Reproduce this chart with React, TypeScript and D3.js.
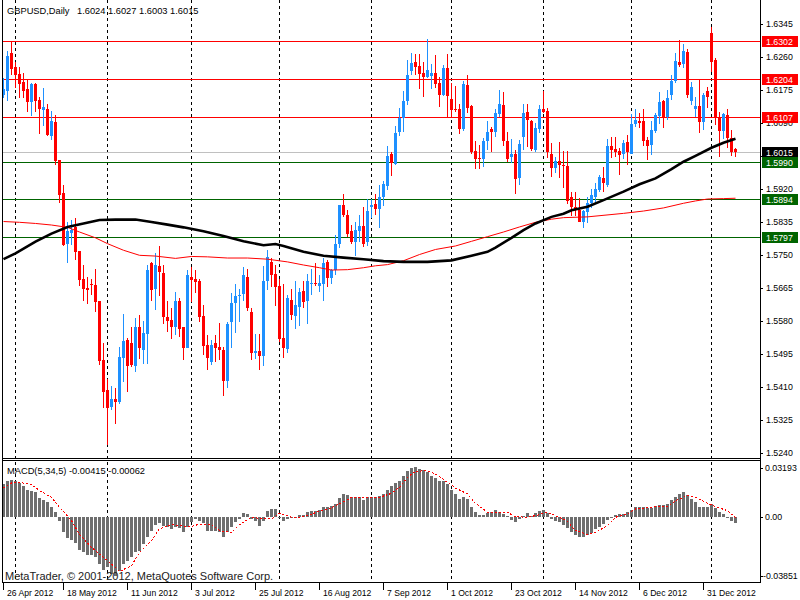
import React from "react";
import * as d3 from "d3";

const barCount = 184;

const openP = [
  1.6163, 1.6173, 1.6271, 1.6235, 1.6216, 1.6197, 1.6178, 1.6146, 1.619, 1.615,
  1.6125, 1.6127, 1.6058, 1.6094, 1.5995, 1.591, 1.578, 1.5807, 1.5822, 1.5761,
  1.5688, 1.5666, 1.5676, 1.5673, 1.5632, 1.548, 1.5402, 1.5359, 1.5381, 1.5371,
  1.5486, 1.5531, 1.5523, 1.5465, 1.5566, 1.5506, 1.5548, 1.5729, 1.5663, 1.5723,
  1.5704, 1.5592, 1.5583, 1.5566, 1.5633, 1.5565, 1.5511, 1.5694, 1.569, 1.5684,
  1.5594, 1.552, 1.5474, 1.5523, 1.5513, 1.5506, 1.5427, 1.5577, 1.5627, 1.5646,
  1.5651, 1.5694, 1.5604, 1.5499, 1.5503, 1.5491, 1.5685, 1.5733, 1.5702, 1.5671,
  1.5536, 1.5508, 1.5634, 1.5594, 1.5616, 1.5658, 1.5632, 1.5676, 1.5678, 1.5671,
  1.5676, 1.5733, 1.5692, 1.5712, 1.5778, 1.5879, 1.5855, 1.5812, 1.5785, 1.5812,
  1.5825, 1.5783, 1.5875, 1.5881, 1.5869, 1.59, 1.5929, 1.601, 1.5984, 1.6067,
  1.6104, 1.6147, 1.6225, 1.6247, 1.6237, 1.622, 1.621, 1.6213, 1.622, 1.6194,
  1.6163, 1.6233, 1.6153, 1.6128, 1.6128, 1.6075, 1.6189, 1.6135, 1.6018, 1.6,
  1.5998, 1.6044, 1.6075, 1.6067, 1.6115, 1.6137, 1.6044, 1.6004, 1.6012, 1.595,
  1.6055, 1.6118, 1.6096, 1.6021, 1.6075, 1.6127, 1.6122, 1.601, 1.5976, 1.5993,
  1.5982, 1.5981, 1.5901, 1.5874, 1.5866, 1.5835, 1.5862, 1.5884, 1.5901, 1.5918,
  1.595, 1.5931, 1.6032, 1.6024, 1.6018, 1.601, 1.6041, 1.6012, 1.6087, 1.6096,
  1.6096, 1.6047, 1.6034, 1.607, 1.611, 1.6147, 1.6107, 1.6163, 1.6199, 1.6247,
  1.6242, 1.6274, 1.6147, 1.6127, 1.6135, 1.6094, 1.6173, 1.6322, 1.6253, 1.6107,
  1.607, 1.6111, 1.6051, 1.6024,
];

const highP = [
  1.6206, 1.6276, 1.6299, 1.6247, 1.6235, 1.6219, 1.6201, 1.6194, 1.6194, 1.6158,
  1.6182, 1.614, 1.6122, 1.6111, 1.5996, 1.5931, 1.5835, 1.5841, 1.5847, 1.5762,
  1.5725, 1.5694, 1.569, 1.5714, 1.5633, 1.5523, 1.5432, 1.5414, 1.5407, 1.5514,
  1.5599, 1.5537, 1.5566, 1.5589, 1.5596, 1.558, 1.5726, 1.5733, 1.5755, 1.5774,
  1.5725, 1.5632, 1.5613, 1.5656, 1.5639, 1.5566, 1.5712, 1.572, 1.5711, 1.569,
  1.5621, 1.5546, 1.5531, 1.5546, 1.5575, 1.5514, 1.5579, 1.5654, 1.5676, 1.5664,
  1.5719, 1.5714, 1.5613, 1.5548, 1.5548, 1.5723, 1.5763, 1.5742, 1.5726, 1.569,
  1.5675, 1.5647, 1.5664, 1.5683, 1.5666, 1.5683, 1.5703, 1.5714, 1.5729, 1.5699,
  1.5742, 1.5738, 1.5716, 1.5802, 1.5879, 1.5909, 1.5866, 1.5828, 1.5835, 1.5853,
  1.5875, 1.5895, 1.5895, 1.5907, 1.5931, 1.5941, 1.6032, 1.6017, 1.6084, 1.613,
  1.6173, 1.6252, 1.6271, 1.6268, 1.6268, 1.6249, 1.6307, 1.6244, 1.6266, 1.6209,
  1.624, 1.6268, 1.6195, 1.6187, 1.6139, 1.6199, 1.6214, 1.6137, 1.6044, 1.6034,
  1.6053, 1.6096, 1.6081, 1.6128, 1.6176, 1.617, 1.6068, 1.6049, 1.6021, 1.6047,
  1.6141, 1.6141, 1.6098, 1.609, 1.6137, 1.6173, 1.613, 1.6038, 1.6004, 1.6042,
  1.6018, 1.6018, 1.5914, 1.5912, 1.5898, 1.5866, 1.59, 1.5922, 1.5935, 1.5957,
  1.5978, 1.6049, 1.6055, 1.6055, 1.6027, 1.6047, 1.606, 1.6113, 1.6128, 1.6116,
  1.6127, 1.6055, 1.6096, 1.6116, 1.617, 1.615, 1.6176, 1.6214, 1.627, 1.6305,
  1.6293, 1.6281, 1.6197, 1.6159, 1.6201, 1.6167, 1.6184, 1.6339, 1.6257, 1.612,
  1.6116, 1.6127, 1.6073, 1.6027,
];

const lowP = [
  1.6154, 1.6147, 1.6214, 1.618, 1.6156, 1.6156, 1.612, 1.611, 1.612, 1.6063,
  1.6084, 1.6058, 1.6047, 1.5982, 1.5884, 1.5774, 1.5729, 1.5776, 1.5738, 1.5671,
  1.5632, 1.5625, 1.5647, 1.5603, 1.5467, 1.5357, 1.5262, 1.5351, 1.5316, 1.5368,
  1.5424, 1.5398, 1.5462, 1.545, 1.5484, 1.5469, 1.5471, 1.5632, 1.561, 1.5646,
  1.5572, 1.5553, 1.5534, 1.5544, 1.554, 1.5481, 1.551, 1.563, 1.5654, 1.5577,
  1.5493, 1.5455, 1.5467, 1.5474, 1.548, 1.5388, 1.5408, 1.5511, 1.5551, 1.5577,
  1.5632, 1.5606, 1.548, 1.5484, 1.5455, 1.5465, 1.566, 1.5669, 1.562, 1.5527,
  1.5486, 1.5499, 1.5583, 1.556, 1.5568, 1.5615, 1.5574, 1.5649, 1.5671, 1.5656,
  1.5632, 1.5669, 1.5675, 1.57, 1.5769, 1.5849, 1.5798, 1.578, 1.5749, 1.5785,
  1.5772, 1.5774, 1.5845, 1.5855, 1.5821, 1.5878, 1.5918, 1.5955, 1.5982, 1.6058,
  1.6068, 1.6137, 1.6214, 1.6214, 1.6178, 1.6159, 1.6206, 1.6178, 1.618, 1.6133,
  1.616, 1.6107, 1.6104, 1.6118, 1.6063, 1.607, 1.6116, 1.6012, 1.5972, 1.5972,
  1.5977, 1.6021, 1.6015, 1.6055, 1.6107, 1.6032, 1.5991, 1.5987, 1.5908, 1.5931,
  1.6021, 1.603, 1.6018, 1.6017, 1.6064, 1.6116, 1.6001, 1.5952, 1.5961, 1.595,
  1.5924, 1.5881, 1.5852, 1.5852, 1.5835, 1.5821, 1.5832, 1.5872, 1.5888, 1.5914,
  1.5914, 1.5926, 1.6001, 1.6004, 1.5957, 1.5998, 1.5982, 1.601, 1.6081, 1.6079,
  1.6032, 1.5995, 1.6008, 1.6064, 1.6087, 1.6079, 1.6098, 1.615, 1.6193, 1.6236,
  1.6233, 1.6156, 1.6137, 1.6107, 1.6064, 1.6073, 1.613, 1.6221, 1.6085, 1.6004,
  1.6049, 1.6027, 1.6007, 1.6003,
];

const closeP = [
  1.6178, 1.6263, 1.623, 1.6214, 1.6191, 1.6173, 1.6146, 1.619, 1.6147, 1.6127,
  1.6132, 1.6061, 1.6096, 1.5993, 1.5905, 1.5776, 1.5812, 1.5815, 1.5759, 1.5686,
  1.5664, 1.5661, 1.5675, 1.563, 1.5479, 1.5398, 1.5357, 1.5379, 1.5372, 1.5488,
  1.5529, 1.5465, 1.5467, 1.5565, 1.551, 1.5551, 1.5711, 1.5661, 1.5725, 1.5706,
  1.5591, 1.558, 1.5566, 1.5632, 1.5561, 1.5511, 1.57, 1.5687, 1.5682, 1.5591,
  1.5517, 1.5486, 1.552, 1.5511, 1.5505, 1.5426, 1.5572, 1.5628, 1.5646, 1.5649,
  1.57, 1.5613, 1.5499, 1.5503, 1.5491, 1.5683, 1.5745, 1.5699, 1.5669, 1.5534,
  1.5511, 1.5639, 1.5596, 1.5621, 1.5656, 1.563, 1.5683, 1.5678, 1.5675, 1.5678,
  1.5731, 1.5692, 1.5713, 1.5778, 1.5879, 1.5855, 1.5805, 1.5785, 1.5816, 1.5826,
  1.578, 1.5864, 1.5879, 1.5869, 1.59, 1.5933, 1.6005, 1.5987, 1.6064, 1.6104,
  1.6147, 1.6214, 1.6245, 1.6235, 1.6216, 1.621, 1.6227, 1.622, 1.6192, 1.6163,
  1.6232, 1.6161, 1.6124, 1.6123, 1.6075, 1.619, 1.613, 1.6015, 1.5998, 1.5999,
  1.6044, 1.6067, 1.6068, 1.6116, 1.6139, 1.6044, 1.5998, 1.601, 1.5946, 1.6036,
  1.6116, 1.6098, 1.6024, 1.6077, 1.6128, 1.612, 1.6015, 1.5976, 1.5993, 1.5982,
  1.5981, 1.5891, 1.5875, 1.5869, 1.5836, 1.5864, 1.5886, 1.5905, 1.5922, 1.5952,
  1.5935, 1.6032, 1.6021, 1.6015, 1.6008, 1.6038, 1.6017, 1.6087, 1.6098, 1.609,
  1.6044, 1.6032, 1.6073, 1.6111, 1.6144, 1.6107, 1.6154, 1.6199, 1.625, 1.624,
  1.6276, 1.6163, 1.6184, 1.6135, 1.6094, 1.6163, 1.6158, 1.6249, 1.6107, 1.607,
  1.6113, 1.6051, 1.6017, 1.6015,
];

// Slow moving average (black), sampled at bar indices
const blackMaIdx = [0, 3, 8, 12, 16, 20, 24, 28, 33, 37, 41, 45, 50, 55, 60, 65, 68, 70, 75, 80, 85, 90, 95, 100, 106, 112, 117, 121, 123, 127, 130, 133, 137, 140, 142, 146, 150, 155, 159, 163, 167, 170, 173, 177, 180, 183];
const blackMaVal = [1.574, 1.5755, 1.5785, 1.5806, 1.5823, 1.5832, 1.5841, 1.5842, 1.5842, 1.5836, 1.5829, 1.5822, 1.5812, 1.58, 1.5786, 1.5776, 1.5779, 1.5774, 1.5759, 1.5749, 1.5744, 1.574, 1.5735, 1.5733, 1.5733, 1.5737, 1.5749, 1.5759, 1.577, 1.5795, 1.5815, 1.5832, 1.5849, 1.5857, 1.5866, 1.5875, 1.5892, 1.5914, 1.5933, 1.5948, 1.5972, 1.5991, 1.6006, 1.6027, 1.604, 1.605];

// Very slow moving average (red)
const redMaIdx = [0, 4, 8, 12, 16, 19, 23, 26, 30, 34, 38, 43, 47, 51, 56, 61, 66, 71, 75, 79, 82, 86, 90, 93, 96, 100, 104, 108, 113, 117, 121, 125, 129, 133, 137, 140, 146, 155, 160, 165, 170, 173, 176, 180, 183];
const redMaVal = [1.5837, 1.5835, 1.5832, 1.5828, 1.5822, 1.581, 1.5795, 1.578, 1.5763, 1.575, 1.5748, 1.5742, 1.5747, 1.5746, 1.5743, 1.5743, 1.574, 1.5733, 1.5725, 1.5718, 1.5712, 1.5713, 1.5718, 1.5723, 1.5726, 1.5736, 1.5752, 1.5765, 1.5774, 1.5786, 1.5798, 1.581, 1.5823, 1.5835, 1.5843, 1.5847, 1.5849, 1.5858, 1.5864, 1.5872, 1.5884, 1.589, 1.5895, 1.5896, 1.5897];

// MACD(5,34,5) histogram
const macdHist = [
  0.0213, 0.0235, 0.0239, 0.0235, 0.022, 0.0202, 0.0174, 0.017, 0.0159, 0.0122,
  0.0109, 0.0093, 0.0065, 0.0028, -0.003, -0.0102, -0.0139, -0.0152, -0.0174, -0.0217,
  -0.0233, -0.0248, -0.0248, -0.0261, -0.0309, -0.0348, -0.0326, -0.0374, -0.0385, -0.0357,
  -0.0309, -0.0287, -0.0261, -0.0233, -0.0226, -0.0178, -0.013, -0.0091, -0.0052, -0.0043,
  -0.0059, -0.0065, -0.008, -0.007, -0.0074, -0.0102, -0.0065, -0.0037, -0.0015, -0.003,
  -0.0043, -0.0096, -0.0091, -0.0096, -0.0102, -0.0135, -0.0102, -0.007, -0.0033, -0.0015,
  0.0026, 0.0017, -0.0015, -0.003, -0.0059, -0.0026, 0.0035, 0.005, 0.005, -0.0004,
  -0.003, -0.0015, -0.0009, -0.0004, 0.0013, 0.0013, 0.0033, 0.0039, 0.0039, 0.0046,
  0.0061, 0.0065, 0.0072, 0.0083, 0.0122, 0.0148, 0.0143, 0.013, 0.0126, 0.0126,
  0.0109, 0.0126, 0.0126, 0.013, 0.0133, 0.0148, 0.0174, 0.0202, 0.0222, 0.0235,
  0.0267, 0.0296, 0.0317, 0.0322, 0.0311, 0.0304, 0.0289, 0.0267, 0.0252, 0.023,
  0.023, 0.0213, 0.0174, 0.0148, 0.0115, 0.0126, 0.0115, 0.0065, 0.0028, 0.0013,
  0.0013, 0.0022, 0.0028, 0.0043, 0.0028, 0.0017, 0.0004, -0.0022, -0.0037, -0.0015,
  0.0006, 0.0022, 0.0007, 0.0022, 0.0035, 0.0043, 0.0022, -0.0015, -0.0026, -0.0037,
  -0.0052, -0.0074, -0.0102, -0.0117, -0.0135, -0.013, -0.0117, -0.0109, -0.008, -0.0065,
  -0.0048, -0.0022, -0.0004, 0.0013, 0.0017, 0.0017, 0.0028, 0.0043, 0.0065, 0.0061,
  0.0061, 0.0057, 0.0057, 0.0072, 0.0078, 0.0078, 0.0083, 0.0109, 0.0126, 0.0148,
  0.0163, 0.0143, 0.0115, 0.0093, 0.0065, 0.0065, 0.0065, 0.0083, 0.0057, 0.0028,
  0.0017, -0.0002, -0.0026, -0.00415,
];

// MACD signal line, sampled
const signalIdx = [0, 2, 4, 7, 9, 12, 14, 17, 19, 22, 24, 27, 29, 32, 34, 37, 39, 42, 44, 47, 49, 52, 54, 57, 59, 62, 64, 67, 69, 72, 74, 77, 79, 82, 84, 87, 89, 92, 94, 97, 99, 101, 103, 106, 108, 111, 113, 116, 118, 121, 123, 126, 128, 131, 133, 136, 138, 141, 143, 146, 148, 151, 153, 156, 158, 161, 163, 166, 168, 171, 173, 176, 178, 181, 183];
const signalVal = [0.0187, 0.022, 0.0224, 0.0209, 0.017, 0.0126, 0.0061, -0.0026, -0.0117, -0.02, -0.0243, -0.0309, -0.0357, -0.032, -0.0233, -0.0157, -0.008, -0.0052, -0.0059, -0.0065, -0.0048, -0.0052, -0.0091, -0.0102, -0.0052, -0.0004, -0.0011, -0.0015, 0.0022, -0.0004, -0.0004, 0.0017, 0.0035, 0.0057, 0.0083, 0.0126, 0.0126, 0.0122, 0.0126, 0.0152, 0.0191, 0.0257, 0.0296, 0.03, 0.0278, 0.0224, 0.0187, 0.0148, 0.0087, 0.0028, 0.0028, 0.0028, 0.0, -0.0004, 0.0007, 0.0028, 0.0007, -0.003, -0.0091, -0.0117, -0.0102, -0.0059, -0.0004, 0.0017, 0.005, 0.0057, 0.0065, 0.0065, 0.0104, 0.0137, 0.0126, 0.0087, 0.0065, 0.0039, -0.00062];

// price grid ticks (1.6005 is covered by the level labels in the reference, so its text is not drawn)
const priceTicks = [1.6345, 1.626, 1.6175, 1.609, 1.6005, 1.592, 1.5835, 1.575, 1.5665, 1.558, 1.5495, 1.541, 1.5325, 1.524];
const hiddenTickLabels = [1.6005];
const redLevels = [1.6302, 1.6204, 1.6107];
const grayLevels = [1.6015];
const greenLevels = [1.599, 1.5894, 1.5797];

const monthStartIdx = [3, 26, 47, 69, 92, 112, 135, 157, 177];
const dateLabelIdx = [0, 16, 32, 48, 64, 80, 96, 112, 128, 144, 160, 176];
const dateLabels = ["26 Apr 2012", "18 May 2012", "11 Jun 2012", "3 Jul 2012", "25 Jul 2012", "16 Aug 2012", "7 Sep 2012", "1 Oct 2012", "23 Oct 2012", "14 Nov 2012", "6 Dec 2012", "31 Dec 2012"];

const macdTicks = [0.03193, 0, -0.03851];
const macdTickLabels = ["0.03193", "0.00", "-0.03851"];

const FONT = "'Liberation Sans', Arial, sans-serif";
const BULL = "#1E90FF";
const BEAR = "#FF0000";
const GREEN = "#006400";

export default function App() {
  const x = d3.scaleLinear().domain([0, barCount - 1]).range([3, 3 + 4 * (barCount - 1)]);
  const y = d3.scaleLinear().domain([1.524, 1.6345]).range([453.3, 24.3]);
  const ym = d3.scaleLinear().domain([-0.03851, 0.03193]).range([575.7, 467.7]);
  const bars = d3.range(barCount);

  const pathFrom = (idx: number[], vals: number[], sc: (v: number) => number) =>
    d3
      .line<number>()
      .x((_, k) => x(idx[k]) + 0.5)
      .y((v) => sc(v))(vals) || "";

  const panelRight = 760;
  const py = (v: number) => Math.round(y(v));

  return (
    <div style={{ position: "fixed", left: 0, top: 0, width: 800, height: 600, background: "#fff" }}>
      <svg width={800} height={600} style={{ display: "block" }} fontFamily={FONT}>
        <defs>
          <clipPath id="mainClip">
            <rect x={3} y={0} width={panelRight - 3} height={458} />
          </clipPath>
          <clipPath id="macdClip">
            <rect x={3} y={461} width={panelRight - 3} height={121} />
          </clipPath>
        </defs>
        <rect x={0} y={0} width={800} height={600} fill="#fff" />

        {/* month separators */}
        <g shapeRendering="crispEdges">
          {monthStartIdx.map((i) => (
            <line key={"m" + i} x1={x(i) + 0.5} x2={x(i) + 0.5} y1={0} y2={582} stroke="#000" strokeDasharray="3,3" />
          ))}
        </g>

        {/* horizontal levels */}
        <g shapeRendering="crispEdges">
          {redLevels.map((v) => (
            <rect key={"r" + v} x={3} width={panelRight - 3} y={py(v)} height={1} fill={BEAR} />
          ))}
          {grayLevels.map((v) => (
            <rect key={"g" + v} x={3} width={panelRight - 3} y={py(v)} height={1} fill="#C0C0C0" />
          ))}
          {greenLevels.map((v) => (
            <rect key={"gr" + v} x={3} width={panelRight - 3} y={py(v)} height={1} fill={GREEN} />
          ))}
        </g>

        {/* candles */}
        <g clipPath="url(#mainClip)" shapeRendering="crispEdges">
          {bars.map((i) => {
            const o = openP[i];
            const c = closeP[i];
            const col = c >= o ? BULL : BEAR;
            const top = y(Math.max(o, c));
            const h = Math.max(1, Math.abs(y(o) - y(c)));
            return (
              <g key={"c" + i}>
                <line x1={x(i) + 0.5} x2={x(i) + 0.5} y1={y(highP[i])} y2={y(lowP[i])} stroke={col} />
                <rect x={x(i) - 1} y={top} width={3} height={h} fill={col} />
              </g>
            );
          })}
        </g>

        {/* moving averages */}
        <g clipPath="url(#mainClip)">
          <path d={pathFrom(redMaIdx, redMaVal, y)} fill="none" stroke={BEAR} strokeWidth={1} />
          <path d={pathFrom(blackMaIdx, blackMaVal, y)} fill="none" stroke="#000" strokeWidth={2.6} />
        </g>

        {/* MACD histogram */}
        <g clipPath="url(#macdClip)" shapeRendering="crispEdges">
          {bars.map((i) => {
            const v = macdHist[i];
            const y0 = ym(0);
            const y1 = ym(v);
            return <rect key={"h" + i} x={x(i) - 1} y={Math.min(y0, y1)} width={3} height={Math.max(1, Math.abs(y1 - y0))} fill="#6E6E6E" />;
          })}
          <path d={pathFrom(signalIdx, signalVal, ym)} fill="none" stroke={BEAR} strokeWidth={1} strokeDasharray="2,2" />
        </g>

        {/* frames */}
        <g shapeRendering="crispEdges" stroke="#000" strokeWidth={1}>
          <line x1={2.5} x2={2.5} y1={0} y2={583} />
          <line x1={panelRight + 0.5} x2={panelRight + 0.5} y1={0} y2={583} />
          <line x1={2} x2={panelRight + 1} y1={458.5} y2={458.5} />
          <line x1={2} x2={panelRight + 1} y1={460.5} y2={460.5} />
          <line x1={2} x2={panelRight + 1} y1={582.5} y2={582.5} />
        </g>

        {/* price axis */}
        <g fontSize={8.8} fill="#000">
          {priceTicks.map((v) => (
            <g key={"t" + v}>
              <line x1={panelRight} x2={panelRight + 3} y1={py(v) + 0.5} y2={py(v) + 0.5} stroke="#000" shapeRendering="crispEdges" />
              {hiddenTickLabels.indexOf(v) < 0 && (
                <text x={766} y={y(v)} dy="0.35em">
                  {v.toFixed(4)}
                </text>
              )}
            </g>
          ))}
        </g>

        {/* level labels */}
        <g fontSize={8.8}>
          {[
            ...redLevels.map((v) => ({ v, bg: BEAR })),
            ...grayLevels.map((v) => ({ v, bg: "#000" })),
            ...greenLevels.map((v) => ({ v, bg: GREEN })),
          ].map(({ v, bg }) => (
            <g key={"l" + v}>
              <rect x={762} y={py(v) - 5} width={36} height={11} fill={bg} shapeRendering="crispEdges" />
              <text x={766} y={py(v) + 0.5} dy="0.35em" fill="#fff">
                {v.toFixed(4)}
              </text>
            </g>
          ))}
        </g>

        {/* MACD axis */}
        <g fontSize={8.8} fill="#000">
          {macdTicks.map((v, k) => (
            <g key={"mt" + k}>
              <line x1={panelRight} x2={panelRight + 3} y1={Math.round(ym(v)) + 0.5} y2={Math.round(ym(v)) + 0.5} stroke="#000" shapeRendering="crispEdges" />
              <text x={v < 0 ? 763 : 765} y={ym(v)} dy="0.35em">
                {macdTickLabels[k]}
              </text>
            </g>
          ))}
        </g>

        {/* date axis */}
        <g fontSize={8.6} fill="#000">
          {dateLabelIdx.map((i, k) => {
            const tx = Math.max(3, x(i) - 4);
            return (
              <g key={"d" + i}>
                <line x1={tx + 0.5} x2={tx + 0.5} y1={583} y2={590} stroke="#000" shapeRendering="crispEdges" />
                <text x={tx + 4} y={595.5}>
                  {dateLabels[k]}
                </text>
              </g>
            );
          })}
        </g>

        {/* texts */}
        <text x={7} y={14} fontSize={9.3} fill="#000">
          GBPUSD,Daily
        </text>
        <text x={77} y={14} fontSize={9.3} fill="#000">
          1.6024 1.6027 1.6003 1.6015
        </text>
        <text x={7} y={474} fontSize={9.3} fill="#000">
          MACD(5,34,5) -0.00415 -0.00062
        </text>
        <text x={5} y={579.5} fontSize={11} fill="#222">
          MetaTrader, © 2001-2012, MetaQuotes Software Corp.
        </text>
      </svg>
    </div>
  );
}
